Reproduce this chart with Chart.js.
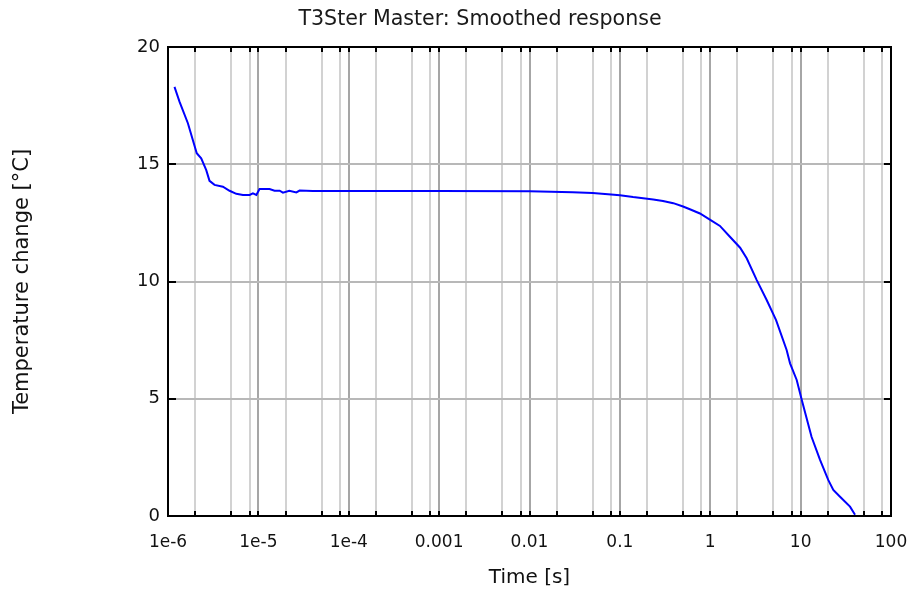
<!DOCTYPE html>
<html>
<head>
<meta charset="utf-8">
<script src="https://cdn.jsdelivr.net/npm/chart.js@4/dist/chart.umd.min.js"></script>
<style>
  html, body { margin: 0; padding: 0; background: #fff; }
</style>
</head>
<body>
<canvas id="chart" width="912" height="592"></canvas>
<script>
const TITLE = "T3Ster Master: Smoothed response";
const X_TITLE = "Time [s]";
const Y_TITLE = "Temperature change [°C]";

// response curve, time in seconds vs temperature change in °C
const timeS = [
  1.18e-6, 1.34e-6, 1.66e-6, 2.08e-6, 2.33e-6, 2.65e-6, 2.88e-6, 3.27e-6, 4.05e-6, 4.8e-6,
  5.7e-6, 6.75e-6, 8.0e-6, 8.7e-6, 9.5e-6, 1.03e-5, 1.33e-5, 1.51e-5, 1.72e-5, 1.87e-5,
  2.2e-5, 2.63e-5, 2.86e-5, 4e-5, 1e-4, 1e-3, 0.01, 0.03, 0.05, 0.08,
  0.1, 0.14, 0.234, 0.30, 0.39, 0.50, 0.595, 0.769, 0.99, 1.28,
  1.65, 2.14, 2.53, 3.27, 4.21, 5.35, 7.0, 7.64, 9.05, 10.3,
  13.2, 16.4, 20.2, 23.0, 27.3, 35.2, 40
];
const tempC = [
  18.3, 17.67, 16.75, 15.47, 15.25, 14.75, 14.29, 14.12, 14.04, 13.87,
  13.74, 13.69, 13.69, 13.76, 13.69, 13.94, 13.94, 13.87, 13.87, 13.79,
  13.87, 13.80, 13.88, 13.86, 13.86, 13.86, 13.85, 13.81, 13.77, 13.71,
  13.68, 13.60, 13.50, 13.43, 13.34, 13.20, 13.08, 12.90, 12.64, 12.37,
  11.91, 11.44, 10.99, 10.06, 9.21, 8.35, 7.08, 6.51, 5.80, 4.95,
  3.38, 2.39, 1.54, 1.11, 0.82, 0.40, 0.05
];

// decade ticks with their labels, plus the minor steps inside each decade
const decades = [1e-6, 1e-5, 1e-4, 1e-3, 1e-2, 1e-1, 1, 10, 100];
const decadeLabels = ["1e-6", "1e-5", "1e-4", "0.001", "0.01", "0.1", "1", "10", "100"];
const minorSteps = [2, 5, 8];
const yTicks = [0, 5, 10, 15, 20];

const FONT = "'DejaVu Sans', sans-serif";
const isDecade = v => decades.some(d => Math.abs(d - v) / d < 1e-9);

const xTickValues = [];
decades.forEach((d, i) => {
  xTickValues.push(d);
  if (i < decades.length - 1) minorSteps.forEach(m => xTickValues.push(d * m));
});

// black box, inward tick marks and the heading
const framePlugin = {
  id: "frame",
  afterDraw(c) {
    const { ctx, chartArea: a, scales: { x, y } } = c;
    ctx.save();
    ctx.strokeStyle = "#000";
    ctx.lineWidth = 2;
    ctx.beginPath();
    x.ticks.forEach(t => {
      const px = Math.round(x.getPixelForValue(t.value));
      ctx.moveTo(px, a.bottom); ctx.lineTo(px, a.bottom - 5);
      ctx.moveTo(px, a.top); ctx.lineTo(px, a.top + 5);
    });
    y.ticks.forEach(t => {
      const py = Math.round(y.getPixelForValue(t.value));
      ctx.moveTo(a.left, py); ctx.lineTo(a.left + 8, py);
      ctx.moveTo(a.right, py); ctx.lineTo(a.right - 7, py);
    });
    ctx.stroke();
    ctx.strokeRect(a.left, a.top, a.right - a.left, a.bottom - a.top);

    ctx.fillStyle = "#1a1a1a";
    ctx.font = "20.6px " + FONT;
    ctx.textAlign = "center";
    ctx.textBaseline = "middle";
    ctx.fillText(TITLE, 480, 20);
    ctx.restore();
  }
};

new Chart(document.getElementById("chart"), {
  type: "line",
  data: {
    datasets: [{
      data: timeS.map((t, i) => ({ x: t, y: tempC[i] })),
      borderColor: "#0000ff",
      borderWidth: 2,
      pointRadius: 0,
      tension: 0,
      fill: false
    }]
  },
  options: {
    responsive: false,
    animation: false,
    layout: { padding: { top: 47, right: 21 } },
    plugins: { legend: { display: false }, tooltip: { enabled: false } },
    scales: {
      x: {
        type: "logarithmic",
        min: 1e-6,
        max: 100,
        afterBuildTicks: s => { s.ticks = xTickValues.map(v => ({ value: v, major: isDecade(v) })); },
        afterFit: s => { s.height = 76; s.paddingLeft = 0; s.paddingRight = 0; },
        border: { display: false },
        grid: {
          drawTicks: false,
          lineWidth: 2,
          color: c => (c.tick && isDecade(c.tick.value)) ? "#a6a6a6" : "#d2d2d2"
        },
        ticks: {
          autoSkip: false,
          maxRotation: 0,
          padding: 16,
          color: "#111",
          font: { family: FONT, size: 17 },
          callback: v => {
            const i = decades.findIndex(d => Math.abs(d - v) / d < 1e-9);
            return i >= 0 ? decadeLabels[i] : "";
          }
        },
        title: {
          display: true,
          text: X_TITLE,
          color: "#111",
          font: { family: FONT, size: 20 },
          padding: { top: 0, bottom: 2 }
        }
      },
      y: {
        min: 0,
        max: 20,
        afterBuildTicks: s => { s.ticks = yTicks.map(v => ({ value: v })); },
        afterFit: s => { s.width = 168; },
        border: { display: false },
        grid: { drawTicks: false, lineWidth: 2, color: "#b8b8b8" },
        ticks: {
          padding: 8,
          color: "#111",
          font: { family: FONT, size: 18 }
        },
        title: {
          display: true,
          text: Y_TITLE,
          color: "#111",
          font: { family: FONT, size: 21 },
          padding: { top: 10, bottom: 0 }
        }
      }
    }
  },
  plugins: [framePlugin]
});
</script>
</body>
</html>
